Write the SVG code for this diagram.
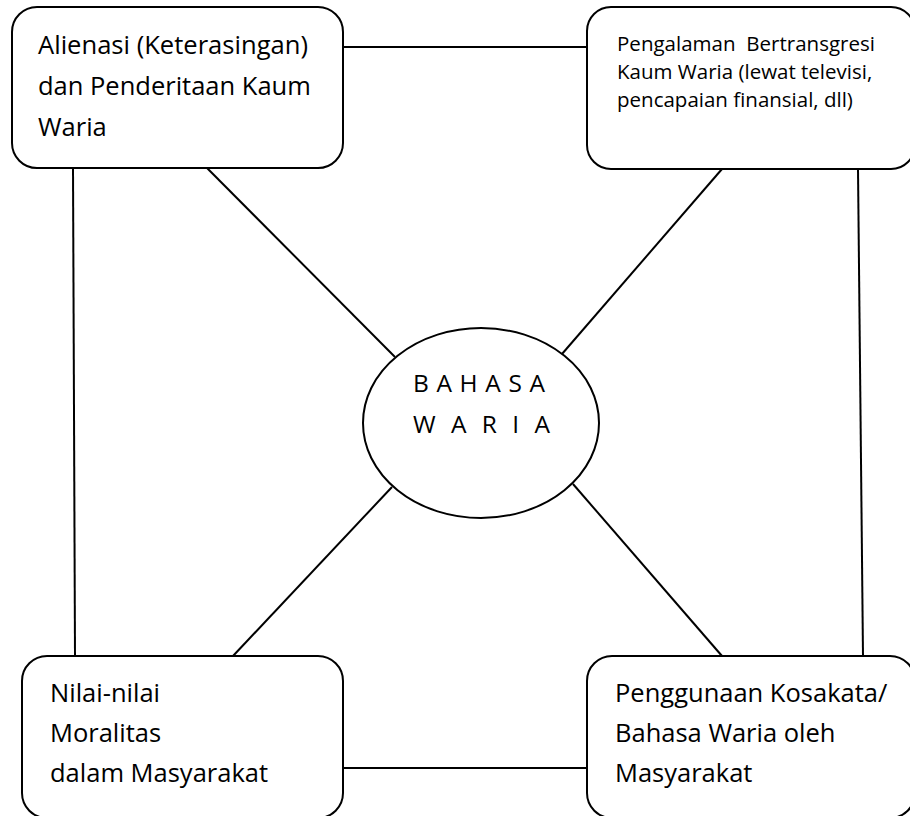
<svg xmlns="http://www.w3.org/2000/svg" width="910" height="816" viewBox="0 0 910 816">
<style>
.box{fill:#fff;stroke:#000;stroke-width:2}
.ln{stroke:#000;stroke-width:2;fill:none}
.t{font-family:"Open Sans","Noto Sans","Liberation Sans",sans-serif;fill:#000}
.big{font-size:25.5px}
.small{font-size:20.5px}
.mid{font-size:24.5px}
</style>
<rect width="910" height="816" fill="#fff"/>
<g id="connectors">
<line class="ln" x1="343" y1="47" x2="587" y2="47"/>
<line class="ln" x1="73" y1="168" x2="75" y2="656"/>
<line class="ln" x1="207" y1="168" x2="395" y2="357"/>
<line class="ln" x1="722" y1="169" x2="562" y2="354"/>
<line class="ln" x1="858" y1="169" x2="863" y2="656"/>
<line class="ln" x1="343" y1="768" x2="587" y2="768"/>
<line class="ln" x1="392" y1="487" x2="233" y2="656"/>
<line class="ln" x1="573" y1="484" x2="722" y2="656"/>
</g>
<g id="node-alienasi">
<rect class="box" x="12" y="7" width="331" height="161" rx="25" ry="25"/>
<text class="t big" x="38" y="54" textLength="270" lengthAdjust="spacingAndGlyphs">Alienasi (Keterasingan)</text>
<text class="t big" x="38" y="95">dan Penderitaan Kaum</text>
<text class="t big" x="38" y="136">Waria</text>
</g>
<g id="node-pengalaman">
<rect class="box" x="587" y="7" width="328" height="162" rx="24" ry="24"/>
<text class="t small" x="617" y="51" xml:space="preserve" textLength="258" lengthAdjust="spacingAndGlyphs">Pengalaman  Bertransgresi</text>
<text class="t small" x="617" y="79">Kaum Waria (lewat televisi,</text>
<text class="t small" x="617" y="107">pencapaian finansial, dll)</text>
</g>
<g id="node-bahasa">
<ellipse class="box" cx="481" cy="423" rx="118" ry="95"/>
<text class="t mid" x="413" y="392" xml:space="preserve" textLength="132" lengthAdjust="spacing">B A H A S A</text>
<text class="t mid" x="413" y="433" xml:space="preserve" textLength="137" lengthAdjust="spacing">W A R I A</text>
</g>
<g id="node-nilai">
<rect class="box" x="22" y="656" width="321" height="162" rx="25" ry="25"/>
<text class="t big" x="50" y="702">Nilai-nilai</text>
<text class="t big" x="50" y="742">Moralitas</text>
<text class="t big" x="50" y="782">dalam Masyarakat</text>
</g>
<g id="node-penggunaan">
<rect class="box" x="587" y="656" width="328" height="162" rx="25" ry="25"/>
<text class="t big" x="615" y="702">Penggunaan Kosakata/</text>
<text class="t big" x="615" y="742">Bahasa Waria oleh</text>
<text class="t big" x="615" y="782">Masyarakat</text>
</g>
</svg>
